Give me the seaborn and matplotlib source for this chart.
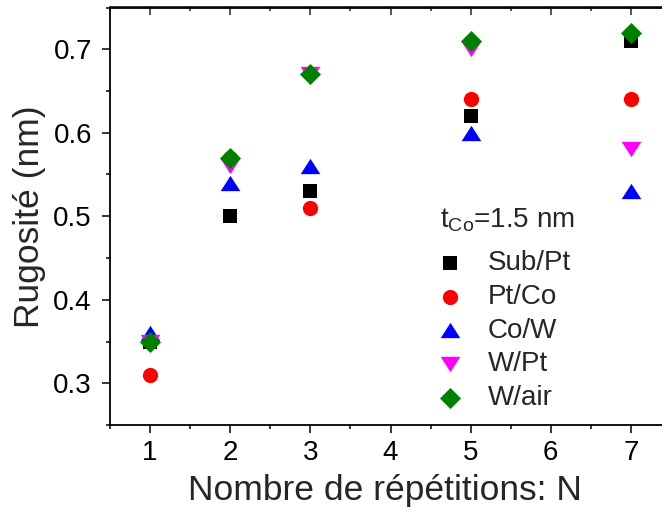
import numpy as np
import pandas as pd
import matplotlib
matplotlib.use('Agg')
import matplotlib.pyplot as plt
import seaborn as sns
from matplotlib.ticker import MultipleLocator

# values
repetitions = [1, 2, 3, 5, 7]
sub_pt = [0.35, 0.50, 0.53, 0.62, 0.71]
pt_co = [0.31, 0.57, 0.51, 0.64, 0.64]
co_w = [0.36, 0.54, 0.56, 0.60, 0.53]
w_pt = [0.35, 0.56, 0.67, 0.70, 0.58]
w_air = [0.35, 0.57, 0.67, 0.71, 0.72]

series_names = ['Sub/Pt', 'Pt/Co', 'Co/W', 'W/Pt', 'W/air']
series_values = [sub_pt, pt_co, co_w, w_pt, w_air]

sns.set_theme(style='ticks')
plt.rcParams['font.family'] = ['Liberation Sans', 'DejaVu Sans']
plt.rcParams['mathtext.fontset'] = 'custom'
plt.rcParams['mathtext.rm'] = 'Liberation Sans'
plt.rcParams['mathtext.it'] = 'Liberation Sans:italic'

rows = []
for name, vals in zip(series_names, series_values):
    for n, v in zip(repetitions, vals):
        rows.append({'N': n, 'rug': v, 'couche': name})
df = pd.DataFrame(rows)

tri_up = [(-1, -0.78), (1, -0.78), (0, 0.78)]
tri_down = [(-1, 0.78), (1, 0.78), (0, -0.78)]
styles = {
    'Sub/Pt': ('black', 's', 115),
    'Pt/Co': ('red', 'o', 120),
    'Co/W': ('blue', tri_up, 200),
    'W/Pt': ('magenta', tri_down, 200),
    'W/air': ('green', 'D', 115),
}

fig = plt.figure(figsize=(6.62, 5.12), dpi=100)
ax = fig.add_axes([110 / 662, 87 / 512, 561 / 662, 417.5 / 512])

for name in series_names:
    color, marker, size = styles[name]
    sns.scatterplot(data=df[df['couche'] == name], x='N', y='rug', ax=ax,
                    color=color, marker=marker, s=size, linewidth=0,
                    label=name, zorder=3)

ax.set_xlim(0.5, 7.5)
ax.set_ylim(0.25, 0.75)
ax.xaxis.set_minor_locator(MultipleLocator(0.5))
ax.yaxis.set_minor_locator(MultipleLocator(0.05))
ax.set_yticks([0.3, 0.4, 0.5, 0.6, 0.7])
ax.set_xticks([1, 2, 3, 4, 5, 6, 7])

for sp in ax.spines.values():
    sp.set_linewidth(1.3)
    sp.set_color('black')

ax.tick_params(which='major', direction='out', length=6, width=1.1,
               labelsize=20, colors='black')
ax.tick_params(which='minor', direction='out', length=3, width=1.1, colors='black')
ax.tick_params(axis='x', which='major', pad=5)
ax.tick_params(axis='y', which='major', pad=7)

# mirrored ticks on top, pointing inward
top = ax.secondary_xaxis('top')
top.set_xticks([1, 2, 3, 4, 5, 6, 7])
top.xaxis.set_minor_locator(MultipleLocator(0.5))
top.tick_params(which='major', direction='in', length=6, width=1.1, labeltop=False)
top.tick_params(which='minor', direction='in', length=3, width=1.1)
top.spines['top'].set_linewidth(1.3)

ax.set_xlabel('Nombre de répétitions: N', fontsize=25.5, va='center')
ax.xaxis.set_label_coords(0.49, -0.156)
ax.set_ylabel('Rugosité (nm)', fontsize=25.5, labelpad=5)

ax.text(0.588, 0.472, 't$_{\\mathrm{Co}}$=1.5 nm', transform=ax.transAxes,
        fontsize=20, ha='left', va='baseline')
ax.legend(loc='upper left', bbox_to_anchor=(0.588, 0.419), frameon=False,
          fontsize=20, handlelength=0.72, handletextpad=1.0,
          labelspacing=0.28, borderpad=0, borderaxespad=0)

fig.savefig('out.png', dpi=100)
